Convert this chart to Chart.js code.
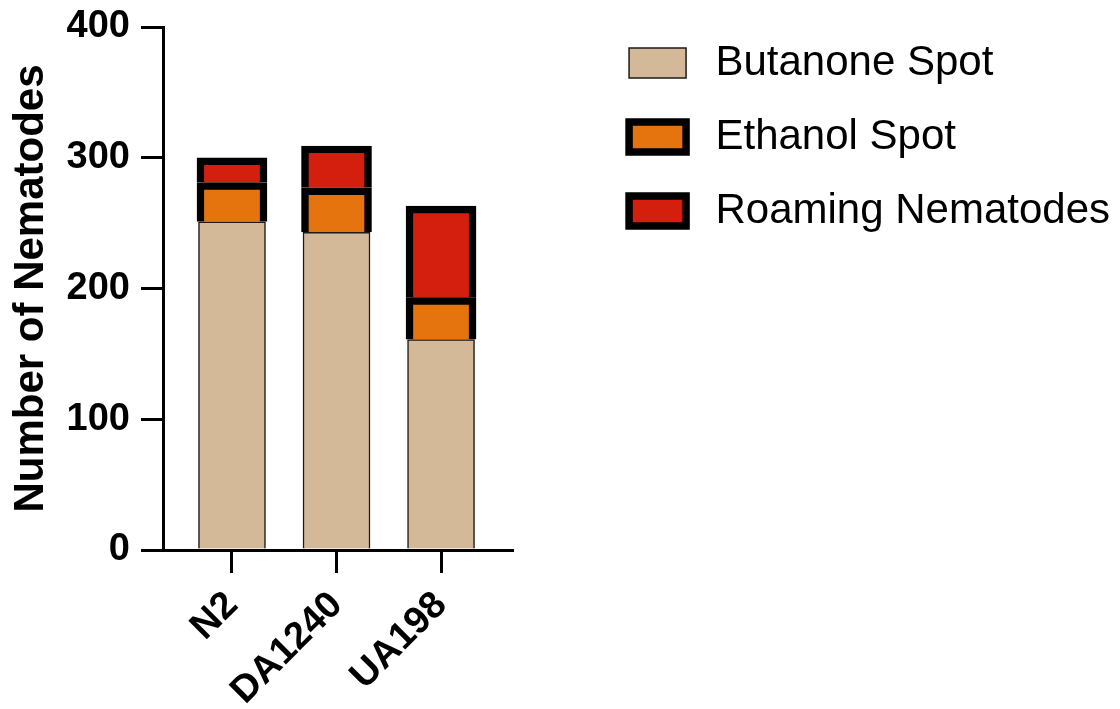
<!DOCTYPE html>
<html>
<head>
<meta charset="utf-8">
<script src="https://cdn.jsdelivr.net/npm/chart.js@4/dist/chart.umd.min.js"></script>
<style>
  html, body { margin: 0; padding: 0; background: #ffffff; }
  #wrap { width: 1120px; height: 709px; position: relative; }
</style>
</head>
<body>
<div id="wrap"><canvas id="chart"></canvas></div>
<script>
// Strains on the x axis and worm counts per location
const strains = ['N2', 'DA1240', 'UA198'];
const butanoneSpot = [251, 243, 161];
const ethanolSpot = [30, 34, 32];
const roamingNematodes = [19, 32, 70];
const yTickValues = [0, 100, 200, 300, 400];

const FONT = "'Liberation Sans', Arial, Helvetica, sans-serif";
const AXIS_RIGHT = 512;   // where the x axis line stops
const RIGHT_PAD = 0;

const toPoints = vals => vals.map((v, i) => ({ x: i, y: v }));

new Chart(document.getElementById('chart'), {
  type: 'bar',
  data: {
    datasets: [
      {
        label: 'Butanone Spot',
        data: toPoints(butanoneSpot),
        backgroundColor: '#D3B998',
        borderColor: '#1a1a1a',
        borderWidth: 1.5,
        barThickness: 67
      },
      {
        label: 'Ethanol Spot',
        data: toPoints(ethanolSpot),
        backgroundColor: '#E5740F',
        borderColor: '#000000',
        borderWidth: 7.5,
        borderSkipped: 'bottom',
        barThickness: 70
      },
      {
        label: 'Roaming Nematodes',
        data: toPoints(roamingNematodes),
        backgroundColor: '#D41E0E',
        borderColor: '#000000',
        borderWidth: 7.5,
        borderSkipped: 'bottom',
        barThickness: 70
      }
    ]
  },
  options: {
    responsive: true,
    maintainAspectRatio: false,
    animation: false,
    layout: { padding: { top: 10, right: RIGHT_PAD, left: 0, bottom: 0 } },
    plugins: {
      tooltip: { enabled: false },
      // empty title reserves the strip above the plot area
      title: { display: true, text: '', padding: 0, font: { size: 17, lineHeight: 1 } },
      legend: {
        position: 'right',
        align: 'start',
        maxWidth: 600,
        labels: {
          color: '#000000',
          boxWidth: 57,
          boxHeight: 30,
          padding: 32,
          font: { family: FONT, size: 42 },
          // a thin space widens the gap between swatch and label
          generateLabels: chart =>
            Chart.defaults.plugins.legend.labels.generateLabels(chart)
              .map(item => Object.assign(item, { text: '\u2009' + item.text }))
        }
      }
    },
    scales: {
      x: {
        type: 'linear',
        stacked: true,
        offset: false,
        min: -0.66,
        max: 2.679,
        z: 1,
        afterBuildTicks: s => { s.ticks = strains.map((_, i) => ({ value: i })); },
        afterFit: s => { s.height = 709 - 550; },
        border: { display: true, color: '#000000', width: 3 },
        grid: { display: true, offset: false, drawOnChartArea: false, drawTicks: true, tickLength: 23, tickWidth: 3, tickColor: '#000000', color: '#000000', lineWidth: 3 },
        ticks: {
          autoSkip: false,
          minRotation: 45,
          maxRotation: 45,
          padding: 10,
          color: '#000000',
          font: { family: FONT, size: 38, weight: 'bold' },
          callback: v => strains[v]
        }
      },
      y: {
        stacked: true,
        min: 0,
        max: 400,
        afterBuildTicks: s => { s.ticks = yTickValues.map(v => ({ value: v })); },
        afterFit: s => { s.width = 163; },
        border: { display: true, color: '#000000', width: 3 },
        grid: { display: true, drawOnChartArea: false, drawTicks: true, tickLength: 22, tickWidth: 3, tickColor: '#000000', color: '#000000', lineWidth: 3 },
        ticks: {
          padding: 11,
          color: '#000000',
          font: { family: FONT, size: 38, weight: 'bold', lineHeight: 0.8 }
        },
        title: {
          display: true,
          text: 'Number of Nematodes',
          color: '#000000',
          padding: { top: 6, bottom: 0 },
          font: { family: FONT, size: 42, weight: 'bold' }
        }
      },
      // blank strip between the plot and the legend
      gap: {
        type: 'linear',
        position: 'right',
        display: true,
        grid: { display: false, drawTicks: false },
        border: { display: false },
        ticks: { display: false },
        afterFit: s => {
          const lg = s.chart.legend;
          s.width = Math.max(0, s.chart.width - RIGHT_PAD - (lg ? lg.width : 0) - AXIS_RIGHT);
        }
      }
    }
  }
});
</script>
</body>
</html>
